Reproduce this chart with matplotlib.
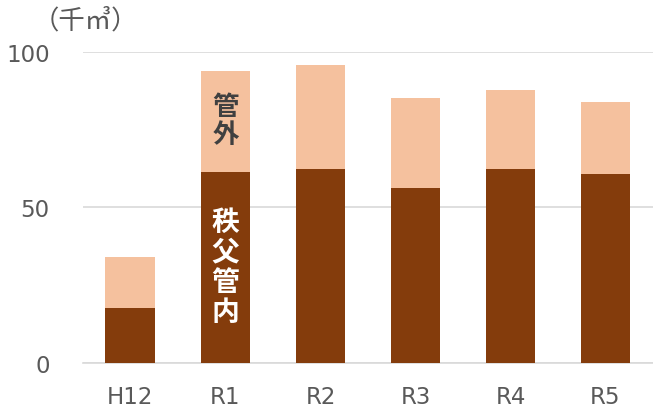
import matplotlib
matplotlib.use("Agg")
import matplotlib.pyplot as plt

categories = ["H12", "R1", "R2", "R3", "R4", "R5"]
inner = [17.7, 61.5, 62.4, 56.3, 62.4, 60.8]   # 秩父管内
outer_total = [34.0, 93.9, 95.8, 85.2, 87.8, 83.9]
outer = [t - i for t, i in zip(outer_total, inner)]  # 管外
yticks = [0, 50, 100]
unit_label = "（千㎥）"

plt.rcParams['font.family'] = ['DejaVu Sans', 'Noto Sans CJK JP']

fig = plt.figure(figsize=(6.53, 4.14), dpi=100)
ax = fig.add_axes([0.127, 0.121, 0.873, 0.751])

x = range(len(categories))
ax.bar(x, inner, width=0.525, color="#843C0C", zorder=3)
ax.bar(x, outer, bottom=inner, width=0.525, color="#F5C19E", zorder=3)

ax.set_xlim(-0.5, len(categories) - 0.5)
ax.set_ylim(0, 100)
ax.set_yticks(yticks)
ax.set_xticks(list(x))
ax.set_xticklabels(categories)
ax.yaxis.grid(True, color="#D9D9D9", linewidth=1.2, zorder=0)
for s in ["top", "right", "left"]:
    ax.spines[s].set_visible(False)
ax.spines["bottom"].set_color("#D9D9D9")
ax.spines["bottom"].set_linewidth(1.2)
ax.tick_params(axis="both", length=0, labelsize=16.5, labelcolor="#595959")
ax.tick_params(axis="y", pad=24)
ax.tick_params(axis="x", pad=16)

fig.text(85 / 653, 1 - 21 / 414, unit_label, ha="center", va="center",
         fontsize=19, color="#595959", family=['Noto Sans CJK JP', 'DejaVu Sans'])

ax.text(1, 78, "\n".join("管外"), ha="center", va="center", fontsize=19,
        color="#404040", fontweight="bold", family=['Noto Sans CJK JP'],
        linespacing=1.05, zorder=4)
ax.text(1, 30.9, "\n".join("秩父管内"), ha="center", va="center", fontsize=20,
        color="white", fontweight="bold", family=['Noto Sans CJK JP'],
        linespacing=1.1, zorder=4)

fig.savefig("out.png", dpi=100)
